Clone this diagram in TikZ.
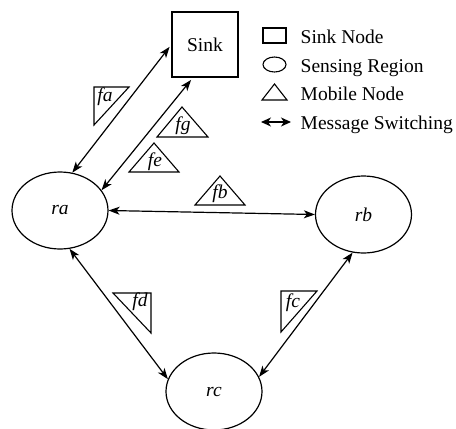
\documentclass[tikz,border=0pt]{standalone}
\usepackage{fontspec}
\setmainfont{Liberation Serif}
\usetikzlibrary{arrows.meta,shapes.geometric}
\begin{document}
\begin{tikzpicture}[x=1pt,y=-1pt]
\fontsize{19.5pt}{23pt}\selectfont
\tikzset{
  region/.style={draw,ellipse,line width=1.2pt,inner sep=0pt,minimum width=96pt,minimum height=77pt},
  sinkbox/.style={draw,rectangle,line width=1.2pt,inner sep=0pt,minimum width=66pt,minimum height=65pt},
  mobile/.style={draw,line width=1.1pt},
  mlabel/.style={inner sep=0pt},
  link/.style={line width=1.2pt,{Stealth[length=11pt,width=8pt,inset=3pt]}-{Stealth[length=11pt,width=8pt,inset=3pt]}},
  legtext/.style={anchor=base west,inner sep=0pt}
}
\useasboundingbox (0,0) rectangle (456,429);

% sink and sensing regions
\node[sinkbox] (sink) at (205,44.5) {Sink};
\node[region] (ra) at (60,210.5) {\textit{ra}};
\node[region] (rb) at (363.5,214.5) {\textit{rb}};
\node[region] (rc) at (214,391.5) {\textit{rc}};

% message switching links
\draw[link,shorten >=3pt] (ra.72) -- (sink.west);
\draw[link,shorten >=3pt] (ra.26) -- (sink.-110);
\draw[link] (ra.east) -- (rb.west);
\draw[link] (ra.-76) -- (rc.165);
\draw[link] (rb.-106) -- (rc.18);

% mobile nodes
\draw[mobile] (94,87) -- (129,87) -- (94,125) -- cycle;
\node[mlabel] (fa) at (105,97) {\textit{fa}};
\draw[mobile] (182,107) -- (208,137) -- (157,137) -- cycle;
\node[mlabel] (fg) at (183,126) {\textit{fg}};
\draw[mobile] (154,143) -- (179,172) -- (129,172) -- cycle;
\node[mlabel] (fe) at (155,162) {\textit{fe}};
\draw[mobile] (220,176) -- (245,205) -- (195,205) -- cycle;
\node[mlabel] (fb) at (220,194) {\textit{fb}};
\draw[mobile] (113,293) -- (151,293) -- (151,333) -- cycle;
\node[mlabel] (fd) at (140,302) {\textit{fd}};
\draw[mobile] (281,291) -- (317,291) -- (281,332) -- cycle;
\node[mlabel] (fc) at (293,303) {\textit{fc}};

% legend
\draw[line width=1.1pt] (263,28) rectangle (286,43);
\draw[line width=1.1pt] (274.5,64.5) ellipse [x radius=11.5, y radius=7.5];
\draw[mobile] (274.5,84) -- (287,100) -- (262,100) -- cycle;
\coordinate (la) at (261,122);
\coordinate (lb) at (291,122);
\draw[line width=1.2pt,{Stealth[length=10pt,width=9pt,inset=3pt]}-{Stealth[length=10pt,width=9pt,inset=3pt]}] (la) -- (lb);
\node[legtext] (l1) at (300.5,43) {Sink Node};
\node[legtext] (l2) at (300.5,72) {Sensing Region};
\node[legtext] (l3) at (300.5,100) {Mobile Node};
\node[legtext] (l4) at (300.5,129.5) {Message Switching};
\end{tikzpicture}
\end{document}
